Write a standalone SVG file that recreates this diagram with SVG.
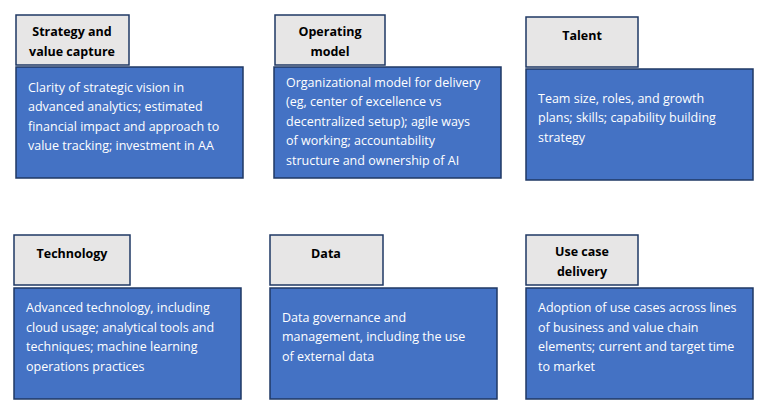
<svg xmlns="http://www.w3.org/2000/svg" width="776" height="420" viewBox="0 0 776 420">
<style>
.tab{fill:#E7E6E6;stroke:#1F3864;stroke-width:1.5}
.body{fill:#4472C4;stroke:#1F3864;stroke-width:1.5}
.tt{font-family:"Open Sans","Liberation Sans",sans-serif;font-size:12.5px;font-weight:bold;fill:#000;text-anchor:middle}
.bt{font-family:"Open Sans","Liberation Sans",sans-serif;font-size:12.5px;fill:#fff}
</style>
<rect width="776" height="420" fill="#fff"/>
<g id="strategy">
<rect class="tab" x="16" y="15" width="113" height="50"/>
<text class="tt" x="72" y="36">Strategy and</text><text class="tt" x="72" y="56">value capture</text>
<rect class="body" x="16" y="67" width="227" height="111"/>
<text class="bt" x="28" y="92">Clarity of strategic vision in</text>
<text class="bt" x="28" y="111">advanced analytics; estimated</text>
<text class="bt" x="28" y="131">financial impact and approach to</text>
<text class="bt" x="28" y="150">value tracking; investment in AA</text>
</g>
<g id="operating">
<rect class="tab" x="275" y="15" width="110" height="50"/>
<text class="tt" x="330" y="36">Operating</text><text class="tt" x="330" y="56">model</text>
<rect class="body" x="274" y="67" width="227" height="111"/>
<text class="bt" x="286" y="87">Organizational model for delivery</text>
<text class="bt" x="286" y="106">(eg, center of excellence vs</text>
<text class="bt" x="286" y="126">decentralized setup); agile ways</text>
<text class="bt" x="286" y="145">of working; accountability</text>
<text class="bt" x="286" y="165">structure and ownership of AI</text>
</g>
<g id="talent">
<rect class="tab" x="526" y="17" width="112" height="50"/>
<text class="tt" x="582" y="40">Talent</text>
<rect class="body" x="526" y="69" width="227" height="111"/>
<text class="bt" x="538" y="103">Team size, roles, and growth</text>
<text class="bt" x="538" y="122">plans; skills; capability building</text>
<text class="bt" x="538" y="142">strategy</text>
</g>
<g id="technology">
<rect class="tab" x="14" y="235" width="116" height="50"/>
<text class="tt" x="72" y="258">Technology</text>
<rect class="body" x="14" y="288" width="227" height="111"/>
<text class="bt" x="26" y="312">Advanced technology, including</text>
<text class="bt" x="26" y="332">cloud usage; analytical tools and</text>
<text class="bt" x="26" y="351">techniques; machine learning</text>
<text class="bt" x="26" y="371">operations practices</text>
</g>
<g id="data">
<rect class="tab" x="270" y="235" width="113" height="50"/>
<text class="tt" x="326" y="258">Data</text>
<rect class="body" x="270" y="288" width="227" height="111"/>
<text class="bt" x="282" y="322">Data governance and</text>
<text class="bt" x="282" y="341">management, including the use</text>
<text class="bt" x="282" y="361">of external data</text>
</g>
<g id="usecase">
<rect class="tab" x="526" y="235" width="112" height="50"/>
<text class="tt" x="582" y="256">Use case</text><text class="tt" x="582" y="276">delivery</text>
<rect class="body" x="526" y="288" width="227" height="111"/>
<text class="bt" x="538" y="312">Adoption of use cases across lines</text>
<text class="bt" x="538" y="332">of business and value chain</text>
<text class="bt" x="538" y="351">elements; current and target time</text>
<text class="bt" x="538" y="371">to market</text>
</g>
<g id="connectors"/>
</svg>
